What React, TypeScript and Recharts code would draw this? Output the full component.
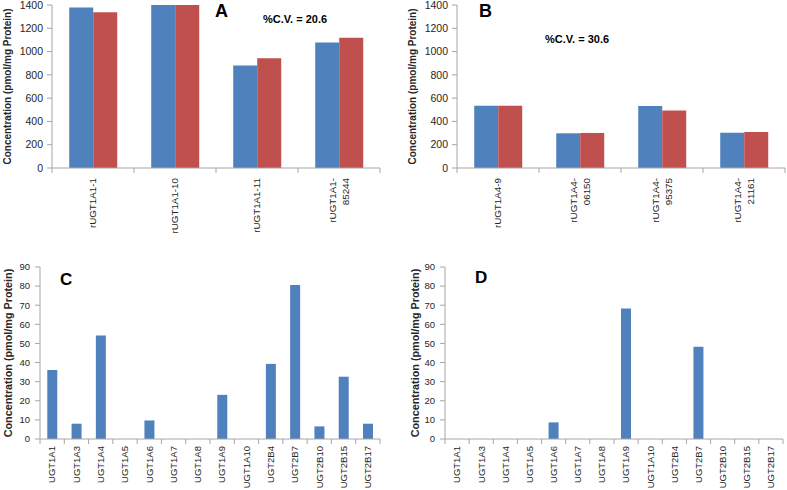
import { BarChart, Bar, XAxis, YAxis } from 'recharts'

// panel A
const aCats = ['rUGT1A1-1', 'rUGT1A1-10', 'rUGT1A1-11', 'rUGT1A1-\n85244']
const aBlue = [1378, 1400, 880, 1077]
const aRed = [1337, 1400, 942, 1118]
// panel B
const bCats = ['rUGT1A4-9', 'rUGT1A4-\n06150', 'rUGT1A4-\n95375', 'rUGT1A4-\n21161']
const bBlue = [535, 298, 533, 303]
const bRed = [534, 301, 493, 309]
// panels C / D
const ugtCats = ['UGT1A1', 'UGT1A3', 'UGT1A4', 'UGT1A5', 'UGT1A6', 'UGT1A7', 'UGT1A8',
  'UGT1A9', 'UGT1A10', 'UGT2B4', 'UGT2B7', 'UGT2B10', 'UGT2B15', 'UGT2B17']
const cVals = [36.1, 8.0, 54.2, 0, 9.7, 0, 0, 23.1, 0, 39.3, 80.6, 6.6, 32.6, 8.0]
const dVals = [0, 0, 0, 0, 8.7, 0, 0, 68.3, 0, 0, 48.3, 0, 0, 0]

const bigTicks = [0, 200, 400, 600, 800, 1000, 1200, 1400]
const smallTicks = [0, 10, 20, 30, 40, 50, 60, 70, 80, 90]

const BLUE = '#4F81BD'
const RED = '#C0504D'
const AXIS = '#A6A6A6'
const TEXT = '#262626'
const FONT = '"Liberation Sans", Arial, sans-serif'
const Y_LABEL = 'Concentration (pmol/mg Protein)'

function CatTick(props: any) {
  const { x, y, payload, index, visibleTicksCount, fontSize, gap, lineH, band } = props
  const half = payload?.offset || band / 2
  const lines = String(payload.value).split('\n')
  const last = index === visibleTicksCount - 1
  return (
    <g>
      <line x1={x - half} y1={y} x2={x - half} y2={y + 5} stroke={AXIS} />
      {last && <line x1={x + half} y1={y} x2={x + half} y2={y + 5} stroke={AXIS} />}
      <g transform={`translate(${x},${y + gap}) rotate(-90)`}>
        {lines.map((l, i) => (
          <text key={i} x={0} y={(i - (lines.length - 1) / 2) * lineH} dy="0.35em"
                textAnchor="end" fontSize={fontSize} fill={TEXT} fontFamily={FONT}>{l}</text>
        ))}
      </g>
    </g>
  )
}

interface PanelProps {
  data: any[]
  keys: { key: string; color: string }[]
  width: number
  height: number
  margin: { top: number; right: number; bottom: number; left: number }
  yWidth: number
  xHeight: number
  yMax: number
  ticks: number[]
  catGap: string
  yFont: number
  yMarginTick: number
  xFont: number
  xGap: number
  lineH: number
  labelX: number
  labelSize: number
}

function Panel(p: PanelProps) {
  const band = (p.width - p.margin.left - p.margin.right - p.yWidth) / p.data.length
  return (
    <BarChart width={p.width} height={p.height} data={p.data} margin={p.margin}
              barCategoryGap={p.catGap} barGap={0}>
      <XAxis dataKey="name" interval={0} height={p.xHeight} stroke={AXIS}
             tickLine={false} tickSize={0} tickMargin={0}
             tick={(t: any) => <CatTick {...t} band={band} fontSize={p.xFont} gap={p.xGap} lineH={p.lineH} />} />
      <YAxis width={p.yWidth} domain={[0, p.yMax]} ticks={p.ticks} interval={0} stroke={AXIS}
             tickSize={5} tickMargin={p.yMarginTick}
             tick={{ fill: TEXT, fontSize: p.yFont, fontFamily: FONT }}
             label={{
               content: (l: any) => {
                 const vb = l.viewBox || { x: 0, y: p.margin.top, height: p.height - p.xHeight - p.margin.top }
                 const cy = vb.y + vb.height / 2
                 return (
                   <text x={p.labelX} y={cy} transform={`rotate(-90, ${p.labelX}, ${cy})`} dy="0.35em"
                         textAnchor="middle" fontSize={p.labelSize} fontWeight="bold" fill={TEXT} fontFamily={FONT}>
                     {Y_LABEL}
                   </text>
                 )
               },
             }} />
      {p.keys.map(k => (
        <Bar key={k.key} dataKey={k.key} fill={k.color} isAnimationActive={false} />
      ))}
    </BarChart>
  )
}

export default function App() {
  const dataA = aCats.map((name, i) => ({ name, blue: aBlue[i], red: aRed[i] }))
  const dataB = bCats.map((name, i) => ({ name, blue: bBlue[i], red: bRed[i] }))
  const dataC = ugtCats.map((name, i) => ({ name, v: cVals[i] }))
  const dataD = ugtCats.map((name, i) => ({ name, v: dVals[i] }))
  const pair = [{ key: 'blue', color: BLUE }, { key: 'red', color: RED }]
  const single = [{ key: 'v', color: BLUE }]

  return (
    <div style={{ position: 'absolute', left: 0, top: 0, width: 787, height: 490, background: '#fff', fontFamily: FONT }}>
      <div style={{ position: 'absolute', left: 0, top: 0 }}>
        <Panel data={dataA} keys={pair} width={390} height={250}
               margin={{ top: 5, right: 10, bottom: 0, left: 0 }} yWidth={52} xHeight={82}
               yMax={1400} ticks={bigTicks} catGap="21%" yFont={10.5} yMarginTick={4}
               xFont={9.8} xGap={10} lineH={13} labelX={7} labelSize={10} />
      </div>
      <div style={{ position: 'absolute', left: 390, top: 0 }}>
        <Panel data={dataB} keys={pair} width={397} height={250}
               margin={{ top: 5, right: 2, bottom: 0, left: 0 }} yWidth={67} xHeight={82}
               yMax={1400} ticks={bigTicks} catGap="21%" yFont={10.5} yMarginTick={4}
               xFont={9.8} xGap={10} lineH={13} labelX={22.5} labelSize={10} />
      </div>
      <div style={{ position: 'absolute', left: 0, top: 250 }}>
        <Panel data={dataC} keys={single} width={390} height={240}
               margin={{ top: 17, right: 10, bottom: 0, left: 0 }} yWidth={40} xHeight={51}
               yMax={90} ticks={smallTicks} catGap="30%" yFont={9.5} yMarginTick={5}
               xFont={9.5} xGap={7} lineH={12} labelX={8} labelSize={10.8} />
      </div>
      <div style={{ position: 'absolute', left: 390, top: 250 }}>
        <Panel data={dataD} keys={single} width={397} height={240}
               margin={{ top: 17, right: 4, bottom: 0, left: 0 }} yWidth={55} xHeight={51}
               yMax={90} ticks={smallTicks} catGap="29%" yFont={9.5} yMarginTick={5}
               xFont={9.5} xGap={7} lineH={12} labelX={25} labelSize={10.8} />
      </div>
      <svg width={787} height={490} style={{ position: 'absolute', left: 0, top: 0, pointerEvents: 'none' }}
           fontFamily={FONT} fontWeight="bold" fill="#000">
        <text x={215} y={17} fontSize={18}>A</text>
        <text x={263} y={23} fontSize={11}>%C.V. = 20.6</text>
        <text x={479} y={17} fontSize={18}>B</text>
        <text x={545} y={43} fontSize={11}>%C.V. = 30.6</text>
        <text x={60} y={285} fontSize={17}>C</text>
        <text x={475} y={283} fontSize={17}>D</text>
      </svg>
    </div>
  )
}
